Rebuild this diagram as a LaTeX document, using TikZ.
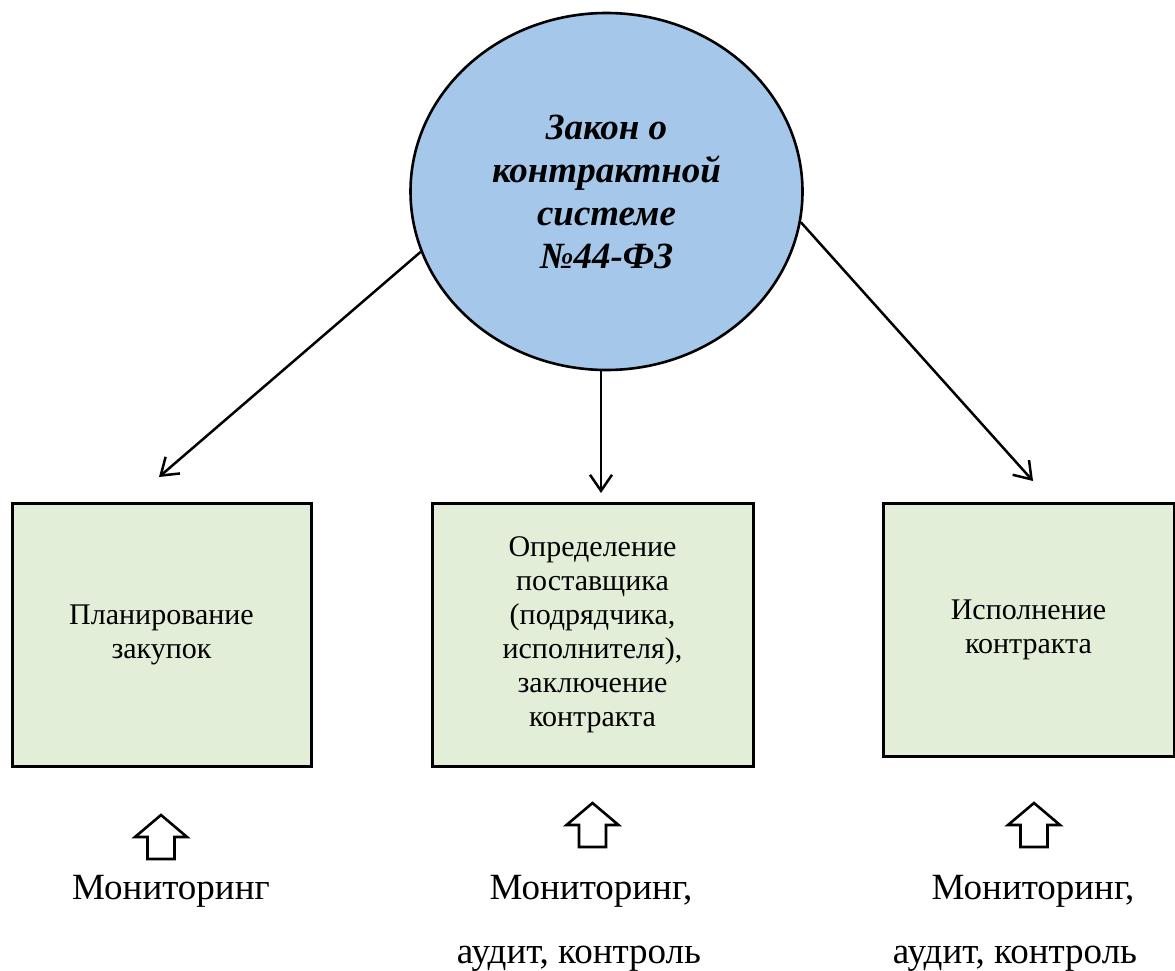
\documentclass[tikz,border=0pt]{standalone}
\usepackage{fontspec}
\setmainfont{Liberation Serif}
\usetikzlibrary{arrows.meta,shapes.geometric}
\definecolor{lawblue}{RGB}{165,199,233}
\definecolor{boxgreen}{RGB}{226,238,216}
\newcommand\monarrow[2]{%
  \draw[blockarrow] (#1,#2) -- ++(26,22) -- ++(-12.5,0) -- ++(0,22) -- ++(-27,0) -- ++(0,-22) -- ++(-12.5,0) -- cycle;}
\begin{document}
\begin{tikzpicture}[x=1pt,y=-1pt,
  law/.style={ellipse, draw, line width=2.6pt, fill=lawblue, minimum width=392pt, minimum height=357pt, inner sep=0pt, font=\fontsize{37}{43}\selectfont\bfseries\itshape, align=center},
  stagebox/.style={draw, line width=3pt, fill=boxgreen, inner sep=0pt, font=\fontsize{30}{34}\selectfont, align=center},
  link/.style={-{Straight Barb[length=16pt,width=22pt]}, line width=2.5pt},
  mon/.style={font=\fontsize{37}{44}\selectfont, anchor=base, inner sep=0pt},
  blockarrow/.style={draw, line width=2.6pt, fill=white, line join=miter}]
\useasboundingbox (0,0) rectangle (1175,971);

\node[law] (law) at (606.5,191.5) {Закон о\\контрактной\\системе\\№44-ФЗ};

\node[stagebox, minimum width=299pt, minimum height=263pt] (b1) at (161.5,634.5) {Планирование\\закупок};
\node[stagebox, minimum width=321pt, minimum height=263pt] (b2) at (592.5,634.5) {Определение\\поставщика\\(подрядчика,\\исполнителя),\\заключение\\контракта};
\node[stagebox, minimum width=291pt, minimum height=253pt] (b3) at (1028.5,629.5) {Исполнение\\контракта};

\coordinate (t1) at (159,477);
\coordinate (t2) at (601,493);
\coordinate (t3) at (1033,481);
\draw[link] (law.198) -- (t1);
\draw[link] (t2 |- law.south) -- (t2);
\draw[link] (law.351) -- (t3);

\monarrow{161}{815}
\monarrow{592.5}{803}
\monarrow{1034}{803}

\node[mon] (m1) at (171,899) {Мониторинг};
\node[mon] (m2) at (591,899) {Мониторинг,};
\node[mon] (m2b) at (579,963) {аудит, контроль};
\node[mon] (m3) at (1033,899) {Мониторинг,};
\node[mon] (m3b) at (1015,963) {аудит, контроль};
\end{tikzpicture}
\end{document}
